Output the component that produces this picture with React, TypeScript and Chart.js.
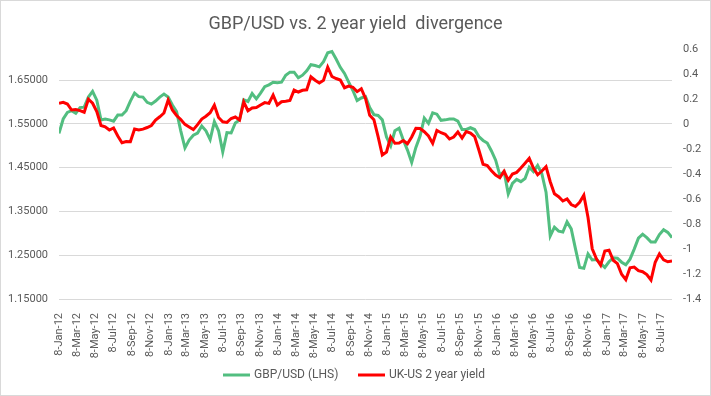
import React, { useEffect, useRef } from "react";
import { Chart, registerables } from "chart.js";

Chart.register(...registerables);

const TITLE = "GBP/USD vs. 2 year yield  divergence";
const SERIES_NAMES = ["GBP/USD (LHS)", "UK-US 2 year yield"];
const START_DATE = Date.UTC(2012, 0, 8);
const STEP_DAYS = 14;

const X_TICK_LABELS = [
  "8-Jan-12", "8-Mar-12", "8-May-12", "8-Jul-12", "8-Sep-12", "8-Nov-12",
  "8-Jan-13", "8-Mar-13", "8-May-13", "8-Jul-13", "8-Sep-13", "8-Nov-13",
  "8-Jan-14", "8-Mar-14", "8-May-14", "8-Jul-14", "8-Sep-14", "8-Nov-14",
  "8-Jan-15", "8-Mar-15", "8-May-15", "8-Jul-15", "8-Sep-15", "8-Nov-15",
  "8-Jan-16", "8-Mar-16", "8-May-16", "8-Jul-16", "8-Sep-16", "8-Nov-16",
  "8-Jan-17", "8-Mar-17", "8-May-17", "8-Jul-17",
];

const LEFT_TICKS = [1.15, 1.25, 1.35, 1.45, 1.55, 1.65];
const LEFT_MIN = 1.15;
const LEFT_MAX = 1.7208;
const RIGHT_TICKS = [0.6, 0.4, 0.2, 0, -0.2, -0.4, -0.6, -0.8, -1, -1.2, -1.4];
const RIGHT_MIN = -1.4;
const RIGHT_MAX = 0.6;

// GBP/USD, fortnightly from 8-Jan-12
const GBPUSD = [
  1.528, 1.561, 1.576, 1.580, 1.574, 1.587, 1.588, 1.611, 1.624, 1.604,
  1.559, 1.561, 1.559, 1.556, 1.570, 1.570, 1.580, 1.602, 1.620, 1.612,
  1.611, 1.599, 1.595, 1.602, 1.611, 1.618, 1.611, 1.593, 1.578, 1.534,
  1.495, 1.513, 1.524, 1.529, 1.545, 1.534, 1.514, 1.555, 1.534, 1.486,
  1.530, 1.529, 1.552, 1.559, 1.605, 1.601, 1.619, 1.607, 1.620, 1.635,
  1.639, 1.645, 1.644, 1.645, 1.661, 1.668, 1.668, 1.655, 1.661, 1.671,
  1.685, 1.683, 1.680, 1.692, 1.712, 1.715, 1.698, 1.679, 1.665, 1.645,
  1.626, 1.603, 1.609, 1.612, 1.587, 1.571, 1.569, 1.559, 1.520, 1.500,
  1.534, 1.540, 1.513, 1.490, 1.462, 1.496, 1.522, 1.563, 1.551, 1.575,
  1.572, 1.558, 1.559, 1.561, 1.561, 1.556, 1.537, 1.537, 1.541, 1.537,
  1.521, 1.512, 1.506, 1.488, 1.467, 1.433, 1.441, 1.390, 1.414, 1.423,
  1.418, 1.425, 1.451, 1.441, 1.455, 1.436, 1.394, 1.294, 1.314, 1.305,
  1.303, 1.326, 1.310, 1.265, 1.222, 1.220, 1.253, 1.239, 1.240, 1.231,
  1.222, 1.235, 1.244, 1.243, 1.234, 1.228, 1.241, 1.264, 1.289, 1.298,
  1.290, 1.280, 1.280, 1.297, 1.308, 1.302, 1.290,
];

// UK-US 2 year yield spread, fortnightly from 8-Jan-12
const UK_US_2Y = [
  0.166, 0.173, 0.160, 0.112, 0.115, 0.107, 0.094, 0.198, 0.166, 0.100,
  -0.012, -0.022, -0.048, -0.032, -0.096, -0.150, -0.140, -0.142, -0.040, -0.048,
  -0.041, -0.028, -0.012, 0.032, 0.058, 0.088, 0.192, 0.112, 0.068, 0.036,
  -0.003, -0.024, -0.045, -0.005, 0.040, 0.062, 0.090, 0.150, 0.052, 0.018,
  0.013, 0.044, 0.056, 0.032, 0.176, 0.106, 0.128, 0.132, 0.152, 0.171,
  0.165, 0.232, 0.152, 0.178, 0.182, 0.188, 0.271, 0.256, 0.270, 0.274,
  0.378, 0.350, 0.328, 0.350, 0.455, 0.380, 0.364, 0.352, 0.290, 0.304,
  0.294, 0.259, 0.282, 0.204, 0.070, 0.035, -0.101, -0.248, -0.224, -0.104,
  -0.154, -0.152, -0.132, -0.158, -0.104, -0.034, -0.036, -0.062, -0.096, -0.155,
  -0.052, -0.070, -0.082, -0.120, -0.104, -0.064, -0.112, -0.060, -0.072, -0.101,
  -0.208, -0.322, -0.332, -0.374, -0.408, -0.430, -0.378, -0.450, -0.400, -0.387,
  -0.352, -0.314, -0.275, -0.352, -0.406, -0.376, -0.341, -0.462, -0.558, -0.582,
  -0.616, -0.600, -0.644, -0.660, -0.626, -0.570, -0.748, -0.998, -1.078, -1.130,
  -1.016, -1.010, -1.090, -1.117, -1.202, -1.245, -1.150, -1.144, -1.173, -1.182,
  -1.204, -1.248, -1.106, -1.039, -1.086, -1.102, -1.096,
];

const GREEN = "#52BE80";
const RED = "#FF0000";
const TEXT = "#595959";
const GRID = "#D9D9D9";
const FONT = "Roboto, 'Liberation Sans', sans-serif";

const MONTHS: Record<string, number> = {
  Jan: 0, Feb: 1, Mar: 2, Apr: 3, May: 4, Jun: 5,
  Jul: 6, Aug: 7, Sep: 8, Oct: 9, Nov: 10, Dec: 11,
};
const labelToDay = (l: string) => {
  const [d, m, y] = l.split("-");
  return (Date.UTC(2000 + Number(y), MONTHS[m], Number(d)) - START_DATE) / 86400000;
};
const X_TICK_DAYS = X_TICK_LABELS.map(labelToDay);

export default function App() {
  const ref = useRef<HTMLCanvasElement>(null);

  useEffect(() => {
    const canvas = ref.current!;
    const frame = {
      id: "frame",
      beforeDraw(chart: any) {
        const ctx = chart.ctx;
        ctx.save();
        ctx.fillStyle = "#fff";
        ctx.fillRect(0, 0, chart.width, chart.height);
        ctx.restore();
      },
      afterDraw(chart: any) {
        const ctx = chart.ctx;
        ctx.save();
        ctx.strokeStyle = GRID;
        ctx.lineWidth = 1;
        ctx.strokeRect(0.5, 0.5, chart.width - 1, chart.height - 1);
        // title
        ctx.fillStyle = TEXT;
        ctx.font = `18px ${FONT}`;
        ctx.textAlign = "center";
        ctx.textBaseline = "alphabetic";
        ctx.fillText(TITLE, chart.width / 2, 29);
        // legend
        ctx.font = `12px ${FONT}`;
        ctx.textAlign = "left";
        ctx.textBaseline = "middle";
        const items = [
          { name: SERIES_NAMES[0], color: GREEN, x: 223 },
          { name: SERIES_NAMES[1], color: RED, x: 358 },
        ];
        const ly = 375;
        items.forEach((it) => {
          ctx.strokeStyle = it.color;
          ctx.lineWidth = 3;
          ctx.beginPath();
          ctx.moveTo(it.x, ly);
          ctx.lineTo(it.x + 27, ly);
          ctx.stroke();
          ctx.fillText(it.name, it.x + 31, ly);
        });
        ctx.restore();
      },
    };

    const chart = new Chart(canvas, {
      type: "line",
      data: {
        datasets: [
          {
            label: SERIES_NAMES[0],
            data: GBPUSD.map((v, i) => ({ x: i * STEP_DAYS, y: v })),
            borderColor: GREEN,
            backgroundColor: GREEN,
            borderWidth: 3,
            pointRadius: 0,
            tension: 0,
            yAxisID: "y",
            order: 1,
          },
          {
            label: SERIES_NAMES[1],
            data: UK_US_2Y.map((v, i) => ({ x: i * STEP_DAYS, y: v })),
            borderColor: RED,
            backgroundColor: RED,
            borderWidth: 3,
            pointRadius: 0,
            tension: 0,
            yAxisID: "y1",
            order: 0,
          },
        ],
      },
      options: {
        responsive: false,
        animation: false,
        devicePixelRatio: 1,
        layout: { padding: { top: 49, left: 0, right: 0, bottom: 0 } },
        plugins: {
          legend: { display: false },
          title: { display: false },
          tooltip: { enabled: false },
        },
        scales: {
          x: {
            type: "linear",
            min: 0,
            max: (GBPUSD.length - 1) * STEP_DAYS,
            afterBuildTicks: (s: any) => {
              s.ticks = X_TICK_DAYS.map((v) => ({ value: v }));
            },
            afterFit: (s: any) => {
              s.height = 97;
            },
            ticks: {
              autoSkip: false,
              minRotation: 90,
              maxRotation: 90,
              padding: 6,
              color: TEXT,
              font: { family: FONT, size: 11 },
              callback: (_v: any, i: number) => X_TICK_LABELS[i],
            },
            grid: { display: false },
            border: { display: false },
          },
          y: {
            position: "left",
            min: LEFT_MIN,
            max: LEFT_MAX,
            afterBuildTicks: (s: any) => {
              s.ticks = LEFT_TICKS.map((v) => ({ value: v }));
            },
            afterFit: (s: any) => {
              s.width = 59;
            },
            ticks: {
              padding: 11,
              color: TEXT,
              font: { family: FONT, size: 11 },
              callback: (v: any) => Number(v).toFixed(5),
            },
            grid: { color: GRID, lineWidth: 1, drawTicks: false },
            border: { display: false },
          },
          y1: {
            position: "right",
            min: RIGHT_MIN,
            max: RIGHT_MAX,
            afterBuildTicks: (s: any) => {
              s.ticks = RIGHT_TICKS.map((v) => ({ value: v }));
            },
            afterFit: (s: any) => {
              s.width = 39;
            },
            ticks: {
              padding: 11,
              color: TEXT,
              font: { family: FONT, size: 11 },
              callback: (v: any) => String(Number(Number(v).toFixed(1))),
            },
            grid: { display: false, drawTicks: false },
            border: { display: false },
          },
        },
      },
      plugins: [frame],
    });
    return () => chart.destroy();
  }, []);

  return (
    <div style={{ position: "fixed", left: 0, top: 0, width: 711, height: 396 }}>
      <canvas ref={ref} width={711} height={396} style={{ display: "block" }} />
    </div>
  );
}
